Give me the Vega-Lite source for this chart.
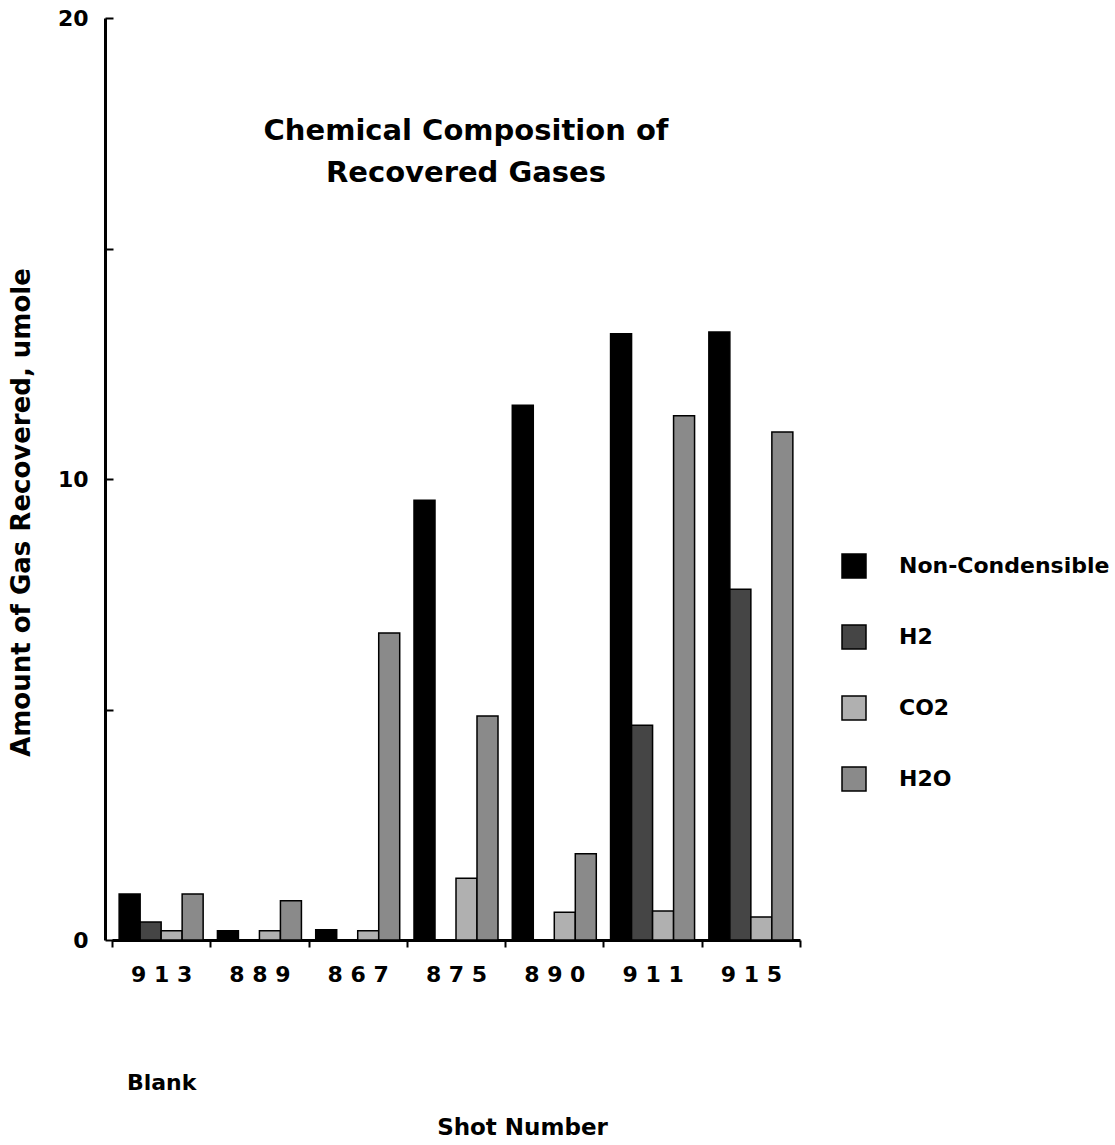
{
  "$schema": "https://vega.github.io/schema/vega-lite/v6.json",
  "width": 688,
  "height": 922,
  "autosize": "none",
  "padding": {"left": 112, "top": 18, "right": 315, "bottom": 205},
  "background": "white",
  "config": {"font": "DejaVu Sans", "view": {"stroke": null}},
  "title": {
    "text": ["Chemical Composition of", "Recovered Gases"],
    "fontSize": 29,
    "font": "DejaVu Sans",
    "fontWeight": "bold",
    "color": "black",
    "anchor": "middle",
    "baseline": "top",
    "lineHeight": 42,
    "dy": 185,
    "dx": 10
  },
  "data": {
    "values": [
      {"shot": "913", "gas": "Non-Condensible", "amount": 1.0},
      {"shot": "913", "gas": "H2", "amount": 0.39},
      {"shot": "913", "gas": "CO2", "amount": 0.2},
      {"shot": "913", "gas": "H2O", "amount": 1.0},
      {"shot": "889", "gas": "Non-Condensible", "amount": 0.2},
      {"shot": "889", "gas": "H2", "amount": 0.0},
      {"shot": "889", "gas": "CO2", "amount": 0.2},
      {"shot": "889", "gas": "H2O", "amount": 0.85},
      {"shot": "867", "gas": "Non-Condensible", "amount": 0.22},
      {"shot": "867", "gas": "H2", "amount": 0.0},
      {"shot": "867", "gas": "CO2", "amount": 0.2},
      {"shot": "867", "gas": "H2O", "amount": 6.66},
      {"shot": "875", "gas": "Non-Condensible", "amount": 9.54},
      {"shot": "875", "gas": "H2", "amount": 0.0},
      {"shot": "875", "gas": "CO2", "amount": 1.34},
      {"shot": "875", "gas": "H2O", "amount": 4.86},
      {"shot": "890", "gas": "Non-Condensible", "amount": 11.6},
      {"shot": "890", "gas": "H2", "amount": 0.0},
      {"shot": "890", "gas": "CO2", "amount": 0.6},
      {"shot": "890", "gas": "H2O", "amount": 1.87},
      {"shot": "911", "gas": "Non-Condensible", "amount": 13.15},
      {"shot": "911", "gas": "H2", "amount": 4.66},
      {"shot": "911", "gas": "CO2", "amount": 0.63},
      {"shot": "911", "gas": "H2O", "amount": 11.37},
      {"shot": "915", "gas": "Non-Condensible", "amount": 13.19},
      {"shot": "915", "gas": "H2", "amount": 7.61},
      {"shot": "915", "gas": "CO2", "amount": 0.5},
      {"shot": "915", "gas": "H2O", "amount": 11.02}
    ]
  },
  "mark": {"type": "bar", "stroke": "black", "strokeWidth": 1.5},
  "encoding": {
    "x": {
      "field": "shot",
      "type": "nominal",
      "sort": null,
      "scale": {"paddingInner": 0, "paddingOuter": 0},
      "axis": {
        "title": "Shot Number",
        "titleFont": "DejaVu Sans",
        "titleFontSize": 23,
        "titleFontWeight": "bold",
        "titleColor": "black",
        "titlePadding": 23,
        "titleX": 410,
        "titleAnchor": null,
        "titleAlign": "center",
        "labelAngle": 0,
        "labelFont": "DejaVu Sans",
        "labelFontSize": 22,
        "labelFontWeight": "bold",
        "labelColor": "black",
        "labelPadding": 17,
        "labelLineHeight": 108,
        "labelBaseline": "top",
        "labelExpr": "datum.value == null ? '' : (datum.value == '913' ? ['9 1 3', 'Blank'] : join(split(datum.value, ''), ' '))",
        "tickBand": "extent",
        "tickSize": 7,
        "tickWidth": 2,
        "tickColor": "black",
        "domainColor": "black",
        "domainWidth": 3,
        "grid": false
      }
    },
    "xOffset": {
      "field": "gas",
      "sort": ["Non-Condensible", "H2", "CO2", "H2O"],
      "scale": {"paddingInner": 0, "paddingOuter": 0.34}
    },
    "y": {
      "field": "amount",
      "type": "quantitative",
      "scale": {"domain": [0, 20], "nice": false},
      "axis": {
        "title": "Amount of Gas Recovered, umole",
        "titleFont": "DejaVu Sans",
        "titleFontSize": 26,
        "titleFontWeight": "bold",
        "titleColor": "black",
        "titlePadding": 23,
        "titleY": 494,
        "values": [0, 5, 10, 15, 20],
        "labelExpr": "datum.value % 10 == 0 ? datum.label : ''",
        "labelFont": "DejaVu Sans",
        "labelFontSize": 22,
        "labelFontWeight": "bold",
        "labelColor": "black",
        "labelPadding": 25,
        "tickSize": -8,
        "tickWidth": 2,
        "tickColor": "black",
        "domainColor": "black",
        "domainWidth": 3,
        "offset": 7,
        "grid": false
      }
    },
    "fill": {
      "field": "gas",
      "type": "nominal",
      "sort": ["Non-Condensible", "H2", "CO2", "H2O"],
      "scale": {
        "domain": ["Non-Condensible", "H2", "CO2", "H2O"],
        "range": ["#000000", "#454545", "#b0b0b0", "#8a8a8a"]
      },
      "legend": {
        "title": null,
        "orient": "none",
        "legendX": 729,
        "legendY": 535,
        "padding": 0,
        "symbolType": "square",
        "symbolSize": 576,
        "symbolStrokeColor": "black",
        "symbolStrokeWidth": 1.5,
        "labelFont": "DejaVu Sans",
        "labelFontSize": 22,
        "labelFontWeight": "bold",
        "labelColor": "black",
        "labelOffset": 32,
        "rowPadding": 41,
        "labelLimit": 400
      }
    }
  }
}
